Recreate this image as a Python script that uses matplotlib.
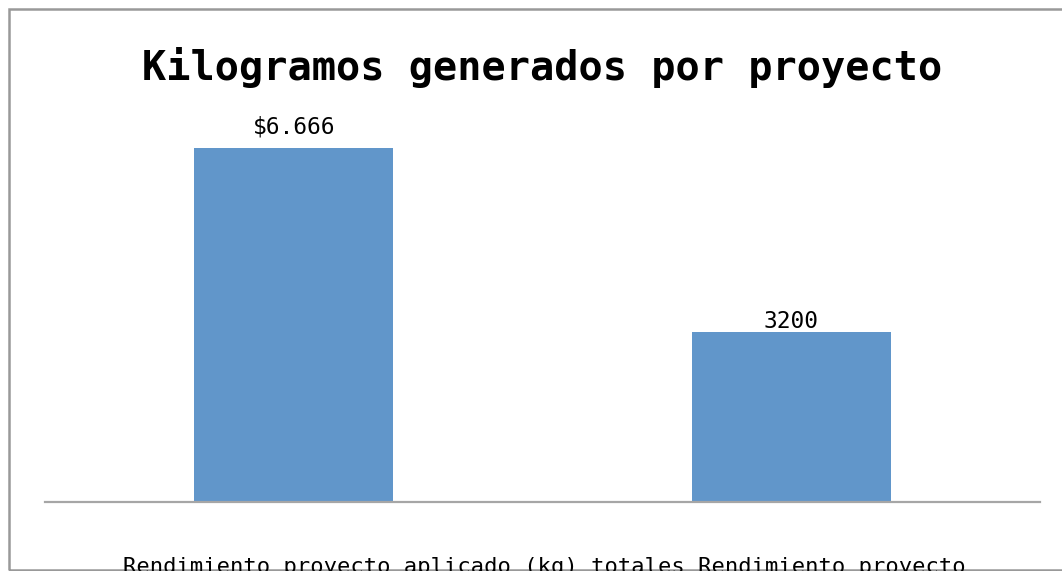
import matplotlib.pyplot as plt
from matplotlib.patches import Rectangle

categories = ['Rendimiento proyecto aplicado (kg)', 'totales Rendimiento proyecto']
values = [6666, 3200]
value_labels = ['$6.666', '3200']
label_gaps_px = [15, 4]
axis_text = 'Rendimiento proyecto aplicado (kg) totales Rendimiento proyecto'

W, H = 1062, 571
fig = plt.figure(figsize=(W / 100, H / 100), dpi=100)
fig.patch.set_facecolor('white')

ax = fig.add_axes([45 / W, (H - 502) / H, (1040 - 45) / W, 0.744])
x = range(len(categories))
bars = ax.bar(x, values, width=0.4, color='#6196CA', zorder=2)
ax.set_xlim(-0.5, 1.5)
ax.set_ylim(0, 8000)

for b, lab, gap in zip(bars, value_labels, label_gaps_px):
    ax.annotate(lab, (b.get_x() + b.get_width() / 2, b.get_height()),
                xytext=(0, gap * 0.72), textcoords='offset points',
                ha='center', va='baseline', fontsize=16.5,
                family='DejaVu Sans Mono', color='black')

for s in ['top', 'right', 'left']:
    ax.spines[s].set_visible(False)
ax.spines['bottom'].set_color('#A6A6A6')
ax.spines['bottom'].set_linewidth(1.6)
ax.set_xticks([])
ax.set_yticks([])

fig.text(542 / W, (H - 67) / H, 'Kilogramos generados por proyecto',
         ha='center', va='center', fontsize=29, family='DejaVu Sans Mono',
         fontweight='bold')

fig.text(544 / W, (H - 557) / H, axis_text,
         ha='center', va='top', fontsize=15.9, family='DejaVu Sans Mono')

# outer chart border (right side falls outside the image)
fig.patches.append(Rectangle((8.5 / W, 1.5 / H), 1.2, (569.5 - 8.5) / H,
                             transform=fig.transFigure, fill=False,
                             edgecolor='#999999', linewidth=1.8, clip_on=False))

fig.savefig('out.png', dpi=100)
